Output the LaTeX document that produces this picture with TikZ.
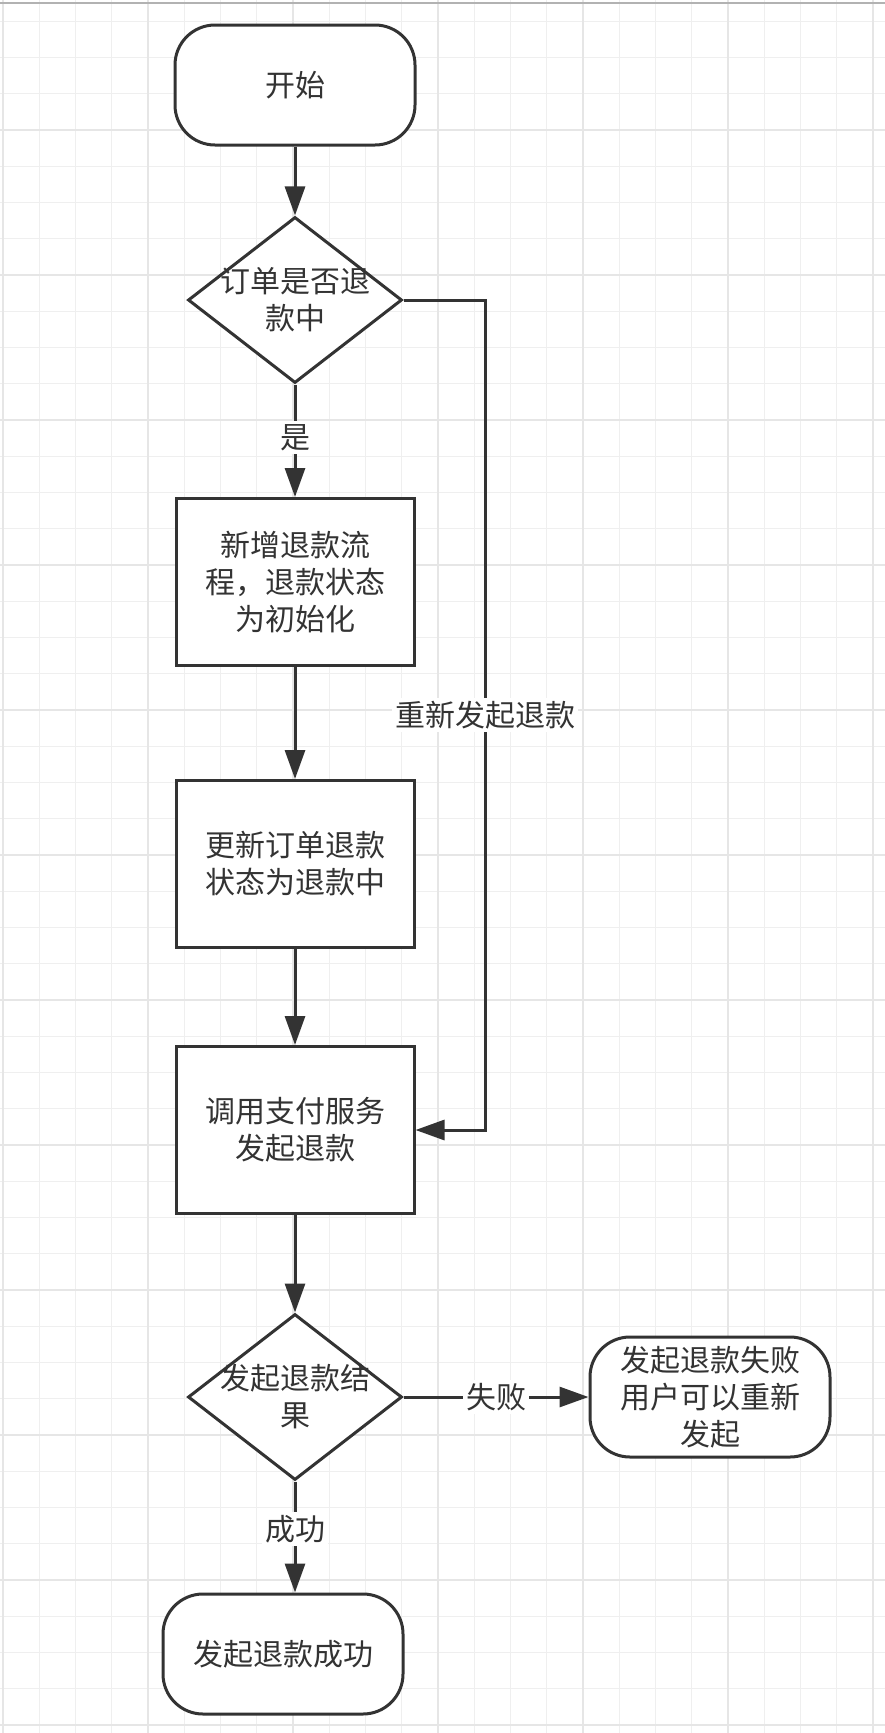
\documentclass[tikz,border=0pt]{standalone}
\usepackage{fontspec}
\newfontfamily\cjk{Noto Sans CJK SC}
\usetikzlibrary{shapes.geometric,arrows.meta}
\definecolor{ink}{HTML}{333333}
\definecolor{gridlo}{HTML}{EFEFEF}
\definecolor{gridhi}{HTML}{E6E6E6}
\tikzset{
  terminal/.style={draw=ink,line width=3pt,fill=white,rounded corners=40pt,minimum width=240pt,minimum height=120pt,align=center,inner sep=2pt},
  proc/.style={draw=ink,line width=3pt,fill=white,minimum width=238pt,minimum height=167pt,align=center},
  decide/.style={diamond,draw=ink,line width=3pt,fill=white,minimum width=214pt,minimum height=166pt,inner sep=0pt},
  flow/.style={draw=ink,line width=3pt,-{Triangle[length=29pt,width=20pt]}},
  edgelbl/.style={fill=white,inner sep=3pt}
}
\begin{document}
\begin{tikzpicture}[x=1pt,y=-1pt,font=\cjk\fontsize{30}{37}\selectfont,text=ink]
\useasboundingbox (0,0) rectangle (885,1733);
\fill[white] (0,0) rectangle (885,1733);

\foreach \i in {0,...,24}{
\draw[gridlo,line width=1.3pt] ({3+36.25*\i},0) -- ({3+36.25*\i},1733);
}
\foreach \i in {0,...,47}{
\draw[gridlo,line width=1.3pt] (0,{21.25+36.25*\i}) -- (885,{21.25+36.25*\i});
}
\foreach \i in {0,4,...,24}{
\draw[gridhi,line width=1.5pt] ({3+36.25*\i},0) -- ({3+36.25*\i},1733);
}
\foreach \i in {3,7,...,47}{
\draw[gridhi,line width=1.5pt] (0,{21.25+36.25*\i}) -- (885,{21.25+36.25*\i});
}
\draw[black!30,line width=2.5pt] (0,3) -- (885,3);

\node[terminal] (start) at (295,85){开始};
\node[decide,label={[align=center]center:订单是否退\\款中}] (q1) at (295,300){};
\node[proc] (new) at (295,582){新增退款流\\程，退款状态\\为初始化};
\node[proc] (upd) at (295,864){更新订单退款\\状态为退款中};
\node[proc] (pay) at (295,1130){调用支付服务\\发起退款};
\node[decide,label={[align=center]center:发起退款结\\果}] (q2) at (295,1397){};
\node[terminal] (fail) at (710,1397){发起退款失败\\用户可以重新\\发起};
\node[terminal] (done) at (283,1654){发起退款成功};
\coordinate (back) at (485,300);

\draw[flow] (start) -- (q1);
\draw[flow] (q1) -- node[edgelbl,pos=.47]{是} (new);
\draw[flow] (new) -- (upd);
\draw[flow] (upd) -- (pay);
\draw[flow] (q1.east) -- (back) |- node[edgelbl,pos=.25]{重新发起退款} (pay.east);
\draw[flow] (pay) -- (q2);
\draw[flow] (q2) -- node[edgelbl]{失败} (fail);
\draw[flow] (q2.south) -- node[edgelbl,pos=.43]{成功} (q2.south |- done.north);

\end{tikzpicture}
\end{document}
